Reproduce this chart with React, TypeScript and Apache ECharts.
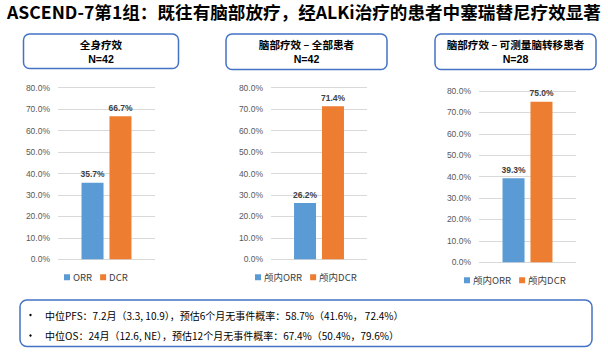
import React, { useEffect, useRef } from "react";
import * as echarts from "echarts";

const titleText = "ASCEND-7第1组：既往有脑部放疗，经ALKi治疗的患者中塞瑞替尼疗效显著";
const panelTitles = ["全身疗效", "脑部疗效 – 全部患者", "脑部疗效 – 可测量脑转移患者"];
const panelN = ["N=42", "N=42", "N=28"];
const seriesNames = [
  ["ORR", "DCR"],
  ["颅内ORR", "颅内DCR"],
  ["颅内ORR", "颅内DCR"],
];
const orrValues = [35.7, 26.2, 39.3];
const dcrValues = [66.7, 71.4, 75.0];
const yMax = 80;
const yInterval = 10;
const bulletLines = [
  "中位PFS：7.2月（3.3, 10.9），预估6个月无事件概率：58.7%（41.6%， 72.4%）",
  "中位OS：24月（12.6, NE），预估12个月无事件概率：67.4%（50.4%，79.6%）",
];

const BLUE = "#5B9BD5";
const ORANGE = "#ED7D31";
const BORDER = "#4472C4";
const CJK = "'Noto Sans CJK SC', 'Noto Sans', sans-serif";
const LAT = "'Liberation Sans', Arial, sans-serif";

const grids = [
  { left: 58, top: 87.7, width: 97, height: 171.6 },
  { left: 271, top: 87.7, width: 96, height: 171.6 },
  { left: 479, top: 91, width: 97, height: 171.3 },
];
const boxes = [
  { x: 23.5, y: 34, w: 155, h: 34.5 },
  { x: 226, y: 34, w: 161, h: 35.5 },
  { x: 435, y: 34, w: 161, h: 35.5 },
];
const legendPos = [
  { left: 64, top: 272.5 },
  { left: 255, top: 272.5 },
  { left: 464, top: 275.5 },
];

export default function App() {
  const ref = useRef<HTMLDivElement>(null);
  useEffect(() => {
    if (!ref.current) return;
    const chart = echarts.init(ref.current, null, { renderer: "svg" });

    const xAxis = grids.map((_, i) => ({
      type: "category",
      gridIndex: i,
      data: [""],
      axisLine: { show: false },
      axisTick: { show: false },
      axisLabel: { show: false },
    }));
    const yAxis = grids.map((_, i) => ({
      type: "value",
      gridIndex: i,
      min: 0,
      max: yMax,
      interval: yInterval,
      axisLine: { show: false },
      axisTick: { show: false },
      axisLabel: {
        color: "#595959",
        fontSize: 8.5,
        fontFamily: LAT,
        margin: 8,
        formatter: (v: number) => v.toFixed(1) + "%",
      },
      splitLine: { lineStyle: { color: "#D9D9D9", width: 1 } },
    }));
    const label = {
      show: true,
      position: "top",
      distance: 4,
      fontSize: 8.5,
      fontWeight: "bold",
      fontFamily: LAT,
      color: "#404040",
      formatter: (p: any) => Number(p.value).toFixed(1) + "%",
    };
    const series: any[] = [];
    grids.forEach((_, i) => {
      series.push({
        type: "bar",
        name: seriesNames[i][0],
        xAxisIndex: i,
        yAxisIndex: i,
        data: [orrValues[i]],
        barWidth: 22,
        barGap: "27%",
        itemStyle: { color: BLUE },
        label,
      });
      series.push({
        type: "bar",
        name: seriesNames[i][1],
        xAxisIndex: i,
        yAxisIndex: i,
        data: [dcrValues[i]],
        barWidth: 22,
        barGap: "27%",
        itemStyle: { color: ORANGE },
        label,
      });
    });
    const legend = grids.map((_, i) => ({
      data: seriesNames[i],
      left: legendPos[i].left,
      top: legendPos[i].top,
      icon: "rect",
      itemWidth: 6,
      itemHeight: 6,
      itemGap: 8,
      padding: 0,
      selectedMode: false,
      textStyle: { color: "#404040", fontSize: 9.5, fontFamily: CJK, padding: [0, 0, 0, -2] },
    }));

    const graphic: any[] = [
      {
        type: "text",
        left: "center",
        top: 3,
        style: {
          text: titleText,
          fontSize: 17.6,
          fontWeight: "bold",
          fontFamily: CJK,
          fill: "#000",
        },
      },
    ];
    boxes.forEach((b, i) => {
      graphic.push({
        type: "rect",
        shape: { x: b.x, y: b.y, width: b.w, height: b.h, r: 6 },
        style: { fill: "#fff", stroke: BORDER, lineWidth: 1.5 },
      });
      graphic.push({
        type: "text",
        x: b.x + b.w / 2,
        y: 44.8,
        style: {
          text: panelTitles[i],
          align: "center",
          verticalAlign: "middle",
          fontSize: 10.6,
          fontWeight: "bold",
          fontFamily: CJK,
          fill: "#000",
        },
      });
      graphic.push({
        type: "text",
        x: b.x + b.w / 2,
        y: 58.8,
        style: {
          text: panelN[i],
          align: "center",
          verticalAlign: "middle",
          fontSize: 10.6,
          fontWeight: "bold",
          fontFamily: LAT,
          fill: "#000",
        },
      });
    });
    graphic.push({
      type: "rect",
      shape: { x: 20, y: 300, width: 572, height: 46.5, r: 7 },
      style: { fill: "#fff", stroke: BORDER, lineWidth: 1.5 },
    });
    bulletLines.forEach((t, i) => {
      const y = 315 + i * 20.5;
      graphic.push({
        type: "circle",
        shape: { cx: 30.5, cy: y, r: 1.2 },
        style: { fill: "#000" },
      });
      graphic.push({
        type: "text",
        x: 45,
        y,
        style: {
          text: t,
          verticalAlign: "middle",
          fontSize: 10,
          fontFamily: CJK,
          fill: "#000",
        },
      });
    });

    chart.setOption({
      animation: false,
      backgroundColor: "#fff",
      grid: grids.map((g) => ({ ...g })),
      xAxis,
      yAxis,
      series,
      legend,
      graphic,
    });
    return () => chart.dispose();
  }, []);
  return (
    <div
      ref={ref}
      style={{ position: "fixed", left: 0, top: 0, width: 608, height: 353 }}
    />
  );
}
